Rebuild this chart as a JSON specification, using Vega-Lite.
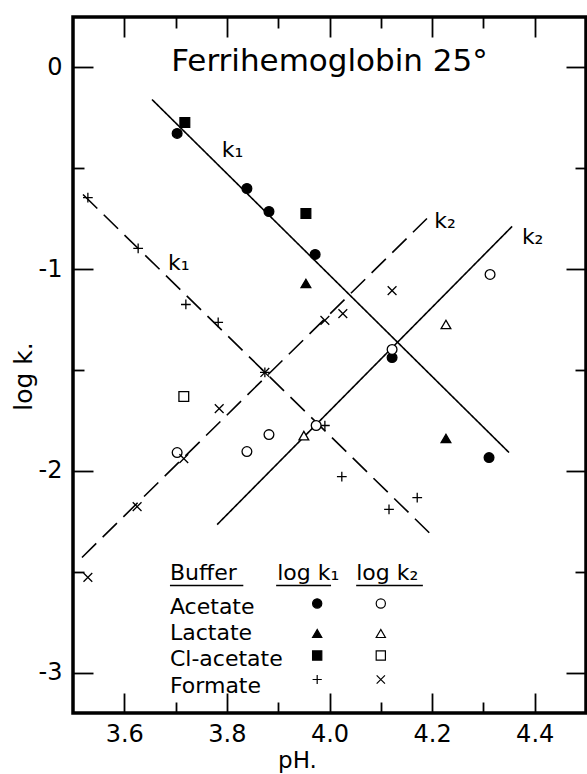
{
  "$schema": "https://vega.github.io/schema/vega-lite/v6.json",
  "width": 513,
  "height": 696,
  "autosize": {"type": "none"},
  "padding": {"left": 73, "top": 17, "right": 1, "bottom": 61},
  "background": "white",
  "config": {"view": {"stroke": "black", "strokeWidth": 3.5}, "font": "DejaVu Sans"},
  "datasets": {
    "lines": [
      {"line": "k1 solid", "style": "solid", "pH": 3.654, "logk": -0.159},
      {"line": "k1 solid", "style": "solid", "pH": 4.350, "logk": -1.909},
      {"line": "k1 dashed", "style": "dashed", "pH": 3.5195, "logk": -0.630},
      {"line": "k1 dashed", "style": "dashed", "pH": 4.204, "logk": -2.330},
      {"line": "k2 dashed", "style": "dashed", "pH": 3.5175, "logk": -2.429},
      {"line": "k2 dashed", "style": "dashed", "pH": 4.190, "logk": -0.749},
      {"line": "k2 solid", "style": "solid", "pH": 3.781, "logk": -2.266},
      {"line": "k2 solid", "style": "solid", "pH": 4.356, "logk": -0.788}
    ],
    "points": [
      {"buffer": "Acetate", "constant": "k1", "pH": 3.703, "logk": -0.327},
      {"buffer": "Acetate", "constant": "k1", "pH": 3.839, "logk": -0.600},
      {"buffer": "Acetate", "constant": "k1", "pH": 3.882, "logk": -0.714},
      {"buffer": "Acetate", "constant": "k1", "pH": 3.972, "logk": -0.927},
      {"buffer": "Acetate", "constant": "k1", "pH": 4.122, "logk": -1.438},
      {"buffer": "Acetate", "constant": "k1", "pH": 4.311, "logk": -1.934},
      {"buffer": "Lactate", "constant": "k1", "pH": 3.954, "logk": -1.071},
      {"buffer": "Lactate", "constant": "k1", "pH": 4.227, "logk": -1.839},
      {"buffer": "Cl-acetate", "constant": "k1", "pH": 3.718, "logk": -0.273},
      {"buffer": "Cl-acetate", "constant": "k1", "pH": 3.954, "logk": -0.724},
      {"buffer": "Formate", "constant": "k1", "pH": 3.529, "logk": -0.645},
      {"buffer": "Formate", "constant": "k1", "pH": 3.627, "logk": -0.897},
      {"buffer": "Formate", "constant": "k1", "pH": 3.720, "logk": -1.175},
      {"buffer": "Formate", "constant": "k1", "pH": 3.783, "logk": -1.264},
      {"buffer": "Formate", "constant": "k1", "pH": 3.874, "logk": -1.512},
      {"buffer": "Formate", "constant": "k1", "pH": 3.991, "logk": -1.775},
      {"buffer": "Formate", "constant": "k1", "pH": 4.024, "logk": -2.028},
      {"buffer": "Formate", "constant": "k1", "pH": 4.116, "logk": -2.191},
      {"buffer": "Formate", "constant": "k1", "pH": 4.171, "logk": -2.132},
      {"buffer": "Acetate", "constant": "k2", "pH": 3.703, "logk": -1.909},
      {"buffer": "Acetate", "constant": "k2", "pH": 3.839, "logk": -1.904},
      {"buffer": "Acetate", "constant": "k2", "pH": 3.882, "logk": -1.820},
      {"buffer": "Acetate", "constant": "k2", "pH": 3.974, "logk": -1.775},
      {"buffer": "Acetate", "constant": "k2", "pH": 4.122, "logk": -1.398},
      {"buffer": "Acetate", "constant": "k2", "pH": 4.313, "logk": -1.026},
      {"buffer": "Lactate", "constant": "k2", "pH": 3.950, "logk": -1.825},
      {"buffer": "Lactate", "constant": "k2", "pH": 4.227, "logk": -1.274},
      {"buffer": "Cl-acetate", "constant": "k2", "pH": 3.716, "logk": -1.631},
      {"buffer": "Formate", "constant": "k2", "pH": 3.529, "logk": -2.528},
      {"buffer": "Formate", "constant": "k2", "pH": 3.625, "logk": -2.177},
      {"buffer": "Formate", "constant": "k2", "pH": 3.716, "logk": -1.939},
      {"buffer": "Formate", "constant": "k2", "pH": 3.785, "logk": -1.691},
      {"buffer": "Formate", "constant": "k2", "pH": 3.874, "logk": -1.512},
      {"buffer": "Formate", "constant": "k2", "pH": 3.991, "logk": -1.254},
      {"buffer": "Formate", "constant": "k2", "pH": 4.026, "logk": -1.220},
      {"buffer": "Formate", "constant": "k2", "pH": 4.122, "logk": -1.106}
    ],
    "legendSymbols": [
      {"buffer": "Acetate", "constant": "k1", "pH": 3.976, "logk": -2.657},
      {"buffer": "Lactate", "constant": "k1", "pH": 3.976, "logk": -2.806},
      {"buffer": "Cl-acetate", "constant": "k1", "pH": 3.976, "logk": -2.915},
      {"buffer": "Formate", "constant": "k1", "pH": 3.976, "logk": -3.034},
      {"buffer": "Acetate", "constant": "k2", "pH": 4.100, "logk": -2.657},
      {"buffer": "Lactate", "constant": "k2", "pH": 4.100, "logk": -2.806},
      {"buffer": "Cl-acetate", "constant": "k2", "pH": 4.100, "logk": -2.915},
      {"buffer": "Formate", "constant": "k2", "pH": 4.100, "logk": -3.034}
    ],
    "labels": [
      {"label": "k₁", "pH": 3.790, "logk": -0.446},
      {"label": "k₁", "pH": 3.685, "logk": -1.006},
      {"label": "k₂", "pH": 4.204, "logk": -0.798},
      {"label": "k₂", "pH": 4.375, "logk": -0.873},
      {"label": "Buffer", "pH": 3.689, "logk": -2.543},
      {"label": "log k₁", "pH": 3.898, "logk": -2.543},
      {"label": "log k₂", "pH": 4.052, "logk": -2.543},
      {"label": "Acetate", "pH": 3.689, "logk": -2.707},
      {"label": "Lactate", "pH": 3.689, "logk": -2.836},
      {"label": "Cl-acetate", "pH": 3.689, "logk": -2.965},
      {"label": "Formate", "pH": 3.689, "logk": -3.099}
    ],
    "title": [
      {"label": "Ferrihemoglobin 25°", "pH": 4.0, "logk": -0.02}
    ],
    "underlines": [
      {"pH": 3.689, "pH2": 3.832, "logk": -2.568},
      {"pH": 3.896, "pH2": 4.003, "logk": -2.568},
      {"pH": 4.052, "pH2": 4.182, "logk": -2.568}
    ]
  },
  "resolve": {"axis": {"x": "independent", "y": "independent"}},
  "layer": [
    {
      "data": {"name": "lines"},
      "mark": {"type": "line", "color": "black", "strokeWidth": 1.6},
      "encoding": {
        "x": {
          "field": "pH", "type": "quantitative",
          "scale": {"domain": [3.5, 4.5], "nice": false, "zero": false},
          "axis": {
            "orient": "bottom",
            "values": [3.6, 3.7, 3.8, 3.9, 4.0, 4.1, 4.2, 4.3, 4.4],
            "domain": false, "grid": false,
            "ticks": true,
            "tickSize": {"condition": {"test": "round(datum.value*10)%2==0", "value": -20}, "value": -11},
            "tickColor": "black", "tickWidth": 1.8,
            "labelExpr": "round(datum.value*10)%2==0 ? format(datum.value,'.1f') : ''",
            "labelFont": "DejaVu Sans", "labelFontSize": 24, "labelColor": "black",
            "labelPadding": 29, "labelFlush": false, "labelOverlap": false,
            "title": "pH.", "titleFont": "DejaVu Sans", "titleFontSize": 23, "titleFontWeight": "normal",
            "titleColor": "black", "titleX": 224, "titleY": 54, "titleBaseline": "alphabetic", "titleAlign": "center"
          }
        },
        "y": {
          "field": "logk", "type": "quantitative",
          "scale": {"domain": [-3.2, 0.25], "nice": false, "zero": false},
          "axis": {
            "orient": "left",
            "values": [-3, -2.5, -2, -1.5, -1, -0.5, 0],
            "domain": false, "grid": false,
            "ticks": true,
            "tickSize": {"condition": {"test": "round(datum.value*2)%2==0", "value": -20}, "value": -11},
            "tickColor": "black", "tickWidth": 1.8,
            "labelExpr": "round(datum.value*2)%2==0 ? (datum.value < 0 ? '-' + abs(datum.value) : '0') : ''",
            "labelFont": "DejaVu Sans", "labelFontSize": 24, "labelColor": "black",
            "labelPadding": 31, "labelFlush": false, "labelOverlap": false,
            "title": "log k.", "titleFont": "DejaVu Sans", "titleFontSize": 25, "titleFontWeight": "normal",
            "titleColor": "black", "titleX": -42, "titleY": 359, "titleBaseline": "alphabetic", "titleAlign": "center", "titleAngle": 270
          }
        },
        "detail": {"field": "line"},
        "strokeDash": {
          "field": "style", "type": "nominal",
          "scale": {"domain": ["solid", "dashed"], "range": [[1, 0], [20, 9]]},
          "legend": null
        }
      }
    },
    {
      "data": {"name": "points"},
      "transform": [{"calculate": "datum.buffer + ' ' + datum.constant", "as": "series"}],
      "mark": {"type": "point", "filled": true, "stroke": "black", "strokeWidth": 1.3, "size": 95, "opacity": 1},
      "encoding": {
        "x": {
          "field": "pH", "type": "quantitative",
          "axis": {
            "orient": "top",
            "values": [3.6, 3.7, 3.8, 3.9, 4.0, 4.1, 4.2, 4.3, 4.4],
            "domain": false, "grid": false, "labels": false, "title": null,
            "tickSize": {"condition": {"test": "round(datum.value*10)%2==0", "value": -20}, "value": -11},
            "tickColor": "black", "tickWidth": 1.8
          }
        },
        "y": {
          "field": "logk", "type": "quantitative",
          "axis": {
            "orient": "right",
            "values": [-3, -2.5, -2, -1.5, -1, -0.5, 0],
            "domain": false, "grid": false, "labels": false, "title": null,
            "tickSize": {"condition": {"test": "round(datum.value*2)%2==0", "value": -20}, "value": -11},
            "tickColor": "black", "tickWidth": 1.8
          }
        },
        "shape": {
          "field": "series", "type": "nominal",
          "scale": {
            "domain": ["Acetate k1", "Lactate k1", "Cl-acetate k1", "Formate k1", "Acetate k2", "Lactate k2", "Cl-acetate k2", "Formate k2"],
            "range": ["circle", "triangle-up", "square", "M-1,0L1,0M0,-1L0,1", "circle", "triangle-up", "square", "M-0.9,-0.9L0.9,0.9M-0.9,0.9L0.9,-0.9"]
          },
          "legend": null
        },
        "fill": {
          "field": "constant", "type": "nominal",
          "scale": {"domain": ["k1", "k2"], "range": ["black", "white"]},
          "legend": null
        }
      }
    },
    {
      "data": {"name": "legendSymbols"},
      "transform": [{"calculate": "datum.buffer + ' ' + datum.constant", "as": "series"}],
      "mark": {"type": "point", "filled": true, "stroke": "black", "strokeWidth": 1.2, "size": 85, "opacity": 1},
      "encoding": {
        "x": {"field": "pH", "type": "quantitative", "axis": null},
        "y": {"field": "logk", "type": "quantitative", "axis": null},
        "shape": {"field": "series", "type": "nominal", "legend": null},
        "fill": {"field": "constant", "type": "nominal", "legend": null}
      }
    },
    {
      "data": {"name": "labels"},
      "mark": {"type": "text", "align": "left", "baseline": "alphabetic", "font": "DejaVu Sans", "fontSize": 22, "color": "black"},
      "encoding": {
        "x": {"field": "pH", "type": "quantitative", "axis": null},
        "y": {"field": "logk", "type": "quantitative", "axis": null},
        "text": {"field": "label"}
      }
    },
    {
      "data": {"name": "title"},
      "mark": {"type": "text", "align": "center", "baseline": "alphabetic", "font": "DejaVu Sans", "fontSize": 31, "color": "black"},
      "encoding": {
        "x": {"field": "pH", "type": "quantitative", "axis": null},
        "y": {"field": "logk", "type": "quantitative", "axis": null},
        "text": {"field": "label"}
      }
    },
    {
      "data": {"name": "underlines"},
      "mark": {"type": "rule", "color": "black", "strokeWidth": 1.5},
      "encoding": {
        "x": {"field": "pH", "type": "quantitative", "axis": null},
        "x2": {"field": "pH2"},
        "y": {"field": "logk", "type": "quantitative", "axis": null}
      }
    }
  ]
}
